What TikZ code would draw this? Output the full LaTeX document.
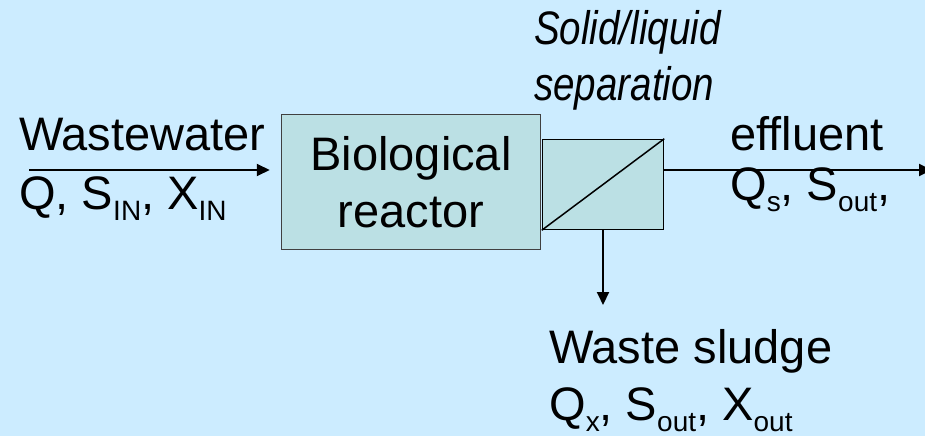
\documentclass[tikz,border=0pt]{standalone}
\usepackage{fontspec}
\setmainfont{Liberation Sans}
\newfontfamily\narrowfont{Liberation Sans}[FakeStretch=0.82]
\usepackage{xcolor}
\usetikzlibrary{arrows.meta,positioning}
\definecolor{bgblue}{RGB}{204,236,255}
\definecolor{tankfill}{RGB}{187,224,228}
\newcommand\lowidx[1]{\raisebox{-11pt}{\fontsize{28}{28}\selectfont #1}}
\begin{document}
\begin{tikzpicture}[x=1pt, y=-1pt,
      font=\fontsize{47}{57}\selectfont,
      tank/.style={draw, fill=tankfill, line width=1.5pt, inner sep=0pt},
      lbl/.style={anchor=base west, inner sep=0pt},
      itlbl/.style={lbl, font=\narrowfont\itshape\fontsize{47}{57}\selectfont},
      ar/.style={-{Triangle[length=13pt,width=12pt]}, line width=2pt}]
    \fill[bgblue] (0,0) rectangle (925,436);
    \useasboundingbox (0,0) rectangle (925,436);
    \node[tank, draw=black!75, align=center, minimum width=259pt, minimum height=135pt] (reactor) at (411,182) {Biological\\reactor};
    \node[tank, minimum width=121pt, minimum height=90pt] (sep) at (603,184.5) {};
    \draw[line width=1.5pt] (sep.south west) -- (sep.north east);
    \node[itlbl] (sl) at (534,45) {Solid/liquid};
    \node[itlbl] (sl2) at (534,100) {separation};
    \node[lbl] (ww) at (19,150) {Wastewater};
    \node[lbl] (wwq) at (19,209) {Q, S\lowidx{IN}, X\lowidx{IN}};
    \node[lbl] (eff) at (730,150) {effluent};
    \node[lbl] (effq) at (730,200) {Q\lowidx{s}, S\lowidx{out},};
    \node[lbl] (ws) at (549,363) {Waste sludge};
    \node[lbl] (wsq) at (549,420) {Q\lowidx{x}, S\lowidx{out}, X\lowidx{out}};
    \coordinate (inflow) at (29,170);
    \coordinate (outflow) at (932,170);
    \coordinate (sludge) at (603,305);
    \draw[ar, shorten >=11pt] (inflow) -- (inflow -| reactor.west);
    \draw[ar] (sep.east |- outflow) -- (outflow);
    \draw[ar] (sep.south) -- (sludge);
  \end{tikzpicture}
\end{document}
